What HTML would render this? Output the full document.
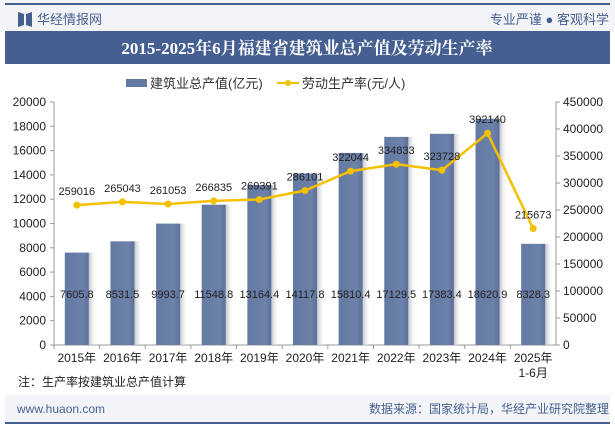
<!DOCTYPE html>
<html><head><meta charset="utf-8"><style>
body{margin:0;width:615px;height:427px;background:#fff;font-family:"Liberation Sans","Noto Sans CJK SC",sans-serif;overflow:hidden}
</style></head><body>
<svg width="615" height="427" xmlns="http://www.w3.org/2000/svg" style="font-family:'Liberation Sans','Noto Sans CJK SC',sans-serif">
<defs>
<linearGradient id="bg" x1="0" x2="1"><stop offset="0" stop-color="#6479a3"/><stop offset="0.75" stop-color="#6d82aa"/><stop offset="1" stop-color="#5b6f98"/></linearGradient>
<linearGradient id="sh" x1="0" x2="1"><stop offset="0" stop-color="#bfc3c9"/><stop offset="1" stop-color="#fff" stop-opacity="0"/></linearGradient>
</defs>
<rect x="0" y="0" width="615" height="31" fill="#f2f4f8"/>
<rect x="5" y="3" width="509" height="2" fill="#455f91"/>
<rect x="5" y="3" width="605" height="2" fill="#455f91"/>
<path d="M18 12 L24 14 L24 25 L18 27 Z M26 14 L32 12 L32 27 L26 25 Z" fill="#455f91"/>
<text x="37" y="24" font-size="13" fill="#455f91">华经情报网</text>
<text x="609" y="24" font-size="13" fill="#455f91" text-anchor="end">专业严谨 ● 客观科学</text>
<rect x="5" y="31" width="605" height="33" fill="#455f91"/>
<text x="307" y="54" font-size="17" font-weight="bold" fill="#fff" text-anchor="middle" font-family="'Liberation Serif','Noto Serif CJK SC',serif">2015-2025年6月福建省建筑业总产值及劳动生产率</text>
<g>
<rect x="126" y="79" width="21" height="8" fill="#6479a3"/>
<text x="150" y="88" font-size="13" fill="#333">建筑业总产值(亿元)</text>
<line x1="277" y1="83" x2="299" y2="83" stroke="#f5c000" stroke-width="2"/>
<circle cx="288" cy="83" r="3" fill="#f5c000"/>
<text x="302" y="88" font-size="13" fill="#333">劳动生产率(元/人)</text>
</g>
<g id="plot"></g>
<text x="18" y="386" font-size="12" fill="#222">注：生产率按建筑业总产值计算</text>
<rect x="5" y="395" width="605" height="27" fill="#f2f4f8"/>
<rect x="5" y="422" width="605" height="2" fill="#455f91"/>
<text x="17" y="413" font-size="12" fill="#455f91">www.huaon.com</text>
<text x="609" y="413" font-size="12" fill="#455f91" text-anchor="end">数据来源：国家统计局，华经产业研究院整理</text>
</svg>
<script>
const categories=["2015年","2016年","2017年","2018年","2019年","2020年","2021年","2022年","2023年","2024年","2025年"];
const outputValues=[7605.8,8531.5,9993.7,11548.8,13164.4,14117.8,15810.4,17129.5,17383.4,18620.9,8328.3];
const productivity=[259016,265043,261053,266835,269391,286101,322044,334833,323728,392140,215673];
const leftTicks=[0,2000,4000,6000,8000,10000,12000,14000,16000,18000,20000];
const rightTicks=[0,50000,100000,150000,200000,250000,300000,350000,400000,450000];
const NS="http://www.w3.org/2000/svg";
const g=document.getElementById('plot');
const X0=54,X1=556,Y0=345,Y1=102;
const bw=(X1-X0)/categories.length;
const xc=i=>X0+bw*(i+0.5);
const yL=v=>Y0-(v/20000)*(Y0-Y1);
const yR=v=>Y0-(v/450000)*(Y0-Y1);
function mk(t,a,txt){const e=document.createElementNS(NS,t);for(const k in a)e.setAttribute(k,a[k]);if(txt!=null)e.textContent=txt;g.appendChild(e);return e;}
let e;
e=mk('line',{x1:X0,y1:Y1,x2:X0,y2:Y0,stroke:'#999'});


e=mk('line',{x1:X1,y1:Y1,x2:X1,y2:Y0,stroke:'#999'});


e=mk('line',{x1:X0,y1:Y0,x2:X1,y2:Y0,stroke:'#999'});


leftTicks.forEach(v=>{mk('line',{x1:X0-4,x2:X0,y1:yL(v),y2:yL(v),stroke:'#999'});
e=mk('text',{x:X0-8,y:yL(v)+4,'font-size':12,fill:'#222','text-anchor':'end'},v);

});
rightTicks.forEach(v=>{mk('line',{x1:X1,x2:X1+4,y1:yR(v),y2:yR(v),stroke:'#999'});
e=mk('text',{x:X1+7,y:yR(v)+4,'font-size':12,fill:'#222'},v);

});
categories.forEach((c,i)=>{mk('line',{x1:X0+bw*i,x2:X0+bw*i,y1:Y0,y2:Y0+4,stroke:'#999'});
e=mk('text',{x:xc(i),y:Y0+17,'font-size':12,fill:'#222','text-anchor':'middle'},c);

});
e=mk('text',{x:xc(10),y:Y0+32,'font-size':12,fill:'#222','text-anchor':'middle'},'1-6月');


outputValues.forEach((v,i)=>{const w=24,x=xc(i)-w/2,y=yL(v);
mk('rect',{x:x+w,y:y,width:8,height:Y0-y,fill:'url(#sh)'});
e=mk('rect',{x:x,y:y,width:w,height:Y0-y,fill:'url(#bg)'});


e=mk('text',{x:xc(i),y:Y0-47,'font-size':11,fill:'#222','text-anchor':'middle'},v);

});
e=mk('polyline',{points:productivity.map((v,i)=>xc(i)+','+yR(v)).join(' '),fill:'none',stroke:'#f5c000','stroke-width':2.5});


productivity.forEach((v,i)=>{e=mk('circle',{cx:xc(i),cy:yR(v),r:3.5,fill:'#f5c000'});


e=mk('text',{x:xc(i),y:yR(v)-10,'font-size':11,fill:'#222','text-anchor':'middle'},v);

});
</script>
</body></html>
